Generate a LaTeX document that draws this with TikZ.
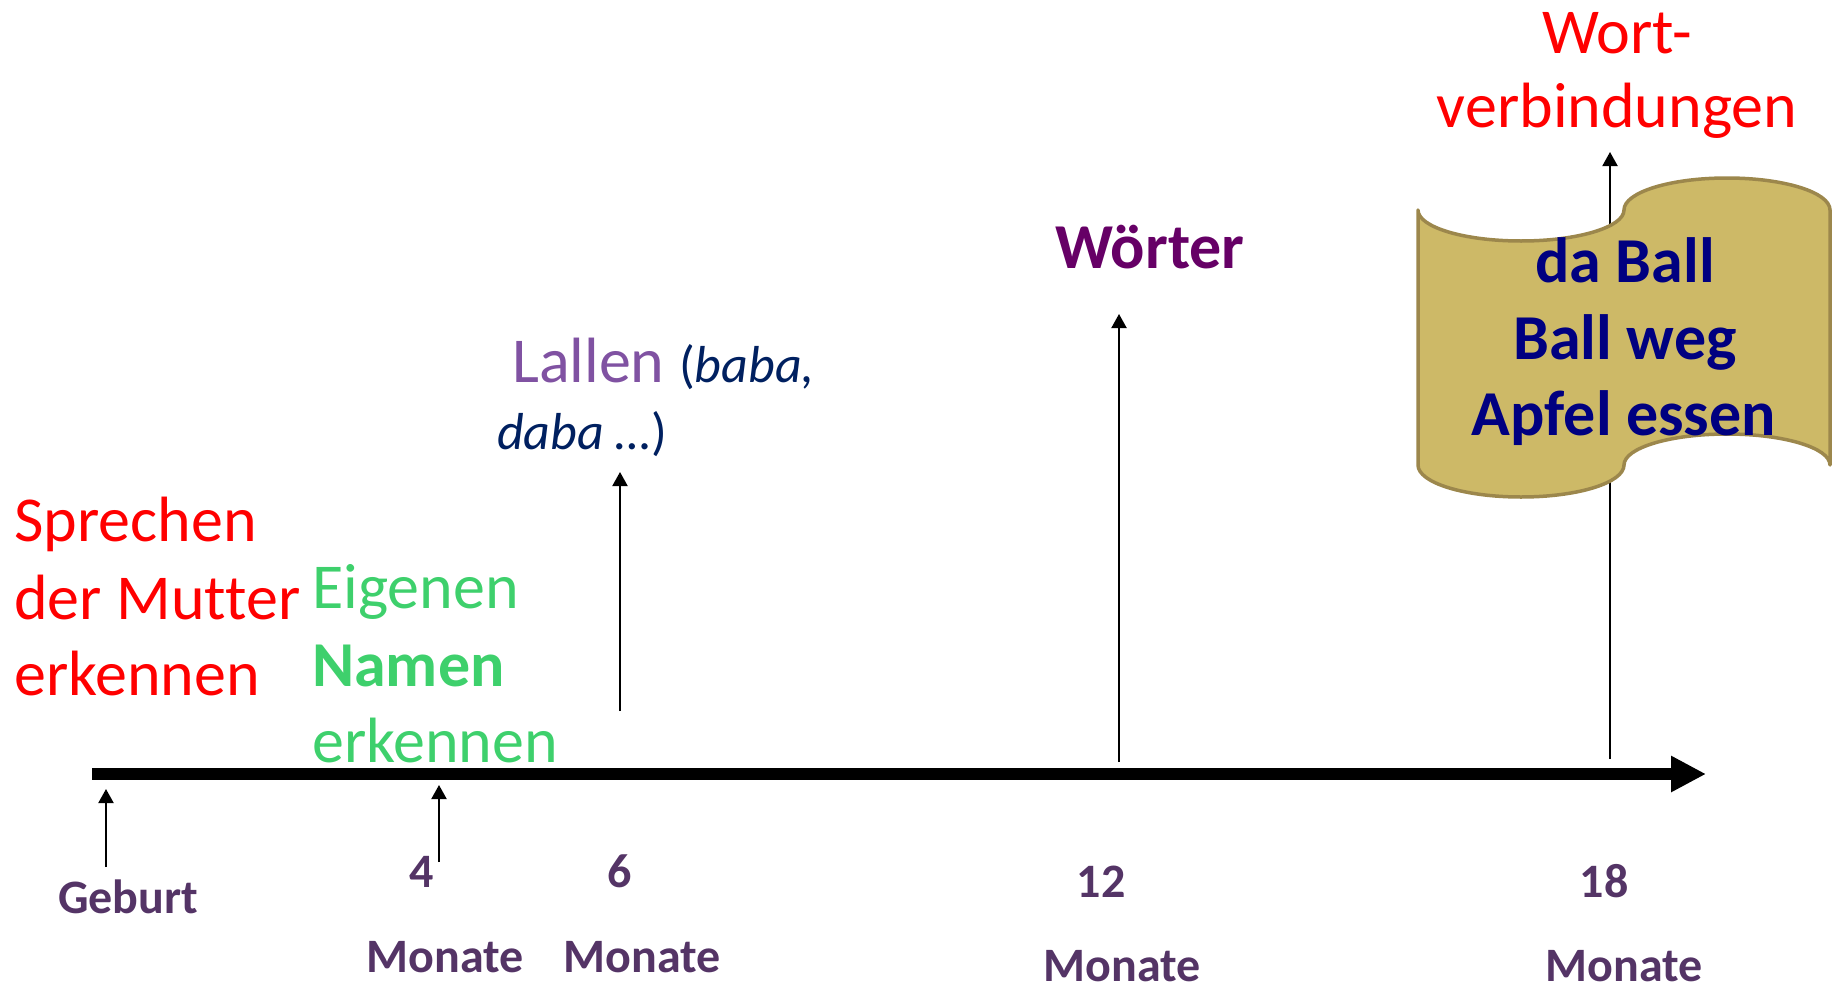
\documentclass[tikz,border=0pt]{standalone}
\usepackage{fontspec}
\setmainfont{Carlito}[Ligatures={NoCommon}]
\usetikzlibrary{arrows.meta}

\definecolor{motherred}{RGB}{255,0,0}
\definecolor{namegreen}{RGB}{62,208,108}
\definecolor{babblepurple}{RGB}{128,82,162}
\definecolor{babblenavy}{RGB}{0,32,96}
\definecolor{wordpurple}{RGB}{102,0,102}
\definecolor{phrasenavy}{RGB}{0,0,128}
\definecolor{agepurple}{RGB}{84,52,102}
\definecolor{scrollfill}{RGB}{205,185,103}
\definecolor{scrolledge}{RGB}{156,135,76}

\begin{document}
\begin{tikzpicture}[x=1pt,y=-1pt,
  bigtext/.style={inner sep=0pt, font=\fontsize{64}{77}\selectfont},
  agelabel/.style={inner sep=0pt, anchor=base, text=agepurple,
    font=\fontsize{48}{58}\selectfont\bfseries},
  pointer/.style={line width=2pt, -{Triangle[length=14pt,width=15pt]}},
  timeaxis/.style={line width=12pt, -{Triangle[length=35pt,width=34pt]}},
  scrollshape/.style={fill=scrollfill, draw=scrolledge, line width=3.5pt, line join=round}
]
\useasboundingbox (0,0) rectangle (1845,996);

% time axis
\coordinate (axisStart) at (92,774);
\coordinate (axisEnd) at (1706,774);
\draw[timeaxis] (axisStart) -- (axisEnd);

% ages below the axis
\node[agelabel] (geburt) at (128,913) {Geburt};
\node[agelabel] (m4) at (422,887) {4};
\node[agelabel] (m4txt) at (445,972) {Monate};
\node[agelabel] (m6) at (620,887) {6};
\node[agelabel] (m6txt) at (642,972) {Monate};
\node[agelabel] (m12) at (1101,897) {12};
\node[agelabel] (m12txt) at (1122,981) {Monate};
\node[agelabel] (m18) at (1604,897) {18};
\node[agelabel] (m18txt) at (1624,981) {Monate};

% pointers
\coordinate (pGebFrom) at (106,867); \coordinate (pGebTo) at (106,789);
\coordinate (p4From) at (439,862);   \coordinate (p4To) at (439,785);
\coordinate (p6From) at (620,711);   \coordinate (p6To) at (620,472);
\coordinate (p12From) at (1119,762); \coordinate (p12To) at (1119,314);
\coordinate (p18From) at (1610,759); \coordinate (p18To) at (1610,152);
\draw[pointer] (pGebFrom) -- (pGebTo);
\draw[pointer] (p4From) -- (p4To);
\draw[pointer] (p6From) -- (p6To);
\draw[pointer] (p12From) -- (p12To);
\draw[pointer] (p18From) -- (p18To);

% recognising the mother's voice
\node[bigtext, anchor=base west, text=motherred] (mutter1) at (14,541) {Sprechen};
\node[bigtext, anchor=base west, text=motherred] (mutter2) at (14,619) {der Mutter};
\node[bigtext, anchor=base west, text=motherred] (mutter3) at (14,695) {erkennen};

% recognising the own name
\node[bigtext, anchor=base west, text=namegreen] (name1) at (312,608) {Eigenen};
\node[bigtext, anchor=base west, text=namegreen] (name2) at (312,686) {\bfseries Namen};
\node[bigtext, anchor=base west, text=namegreen] (name3) at (312,762) {erkennen};

% babbling
\node[bigtext, anchor=base west] (lallen1) at (512,382)
  {\textcolor{babblepurple}{Lallen} \textcolor{babblenavy}{\fontsize{52}{62}\selectfont(\textit{baba,}}};
\node[bigtext, anchor=base west, text=babblenavy] (lallen2) at (497,449)
  {\fontsize{52}{62}\selectfont\textit{daba …})};

% first words
\node[bigtext, anchor=base, text=wordpurple] (woerter) at (1150,268) {\bfseries Wörter};

% word combinations
\node[bigtext, anchor=base, text=motherred] (wv1) at (1617,53) {Wort-};
\node[bigtext, anchor=base, text=motherred] (wv2) at (1617,127) {verbindungen};

% banner with two-word phrases
\path[scrollshape]
  (1418,210) .. controls (1418,227.1) and (1464.1,241) .. (1521,241)
             .. controls (1577.9,241) and (1624,227.1) .. (1624,210)
             .. controls (1624,192.3) and (1670.1,178) .. (1727,178)
             .. controls (1783.9,178) and (1830,192.3) .. (1830,210)
  -- (1830,465)
             .. controls (1830,447.9) and (1783.9,434) .. (1727,434)
             .. controls (1670.1,434) and (1624,447.9) .. (1624,465)
             .. controls (1624,482.7) and (1577.9,497) .. (1521,497)
             .. controls (1464.1,497) and (1418,482.7) .. (1418,465)
  -- cycle;
\node[bigtext, anchor=base, text=phrasenavy] (ph1) at (1625,282) {\bfseries da Ball};
\node[bigtext, anchor=base, text=phrasenavy] (ph2) at (1625,359) {\bfseries Ball weg};
\node[bigtext, anchor=base, text=phrasenavy] (ph3) at (1624,435) {\bfseries Apfel essen};
\end{tikzpicture}
\end{document}
